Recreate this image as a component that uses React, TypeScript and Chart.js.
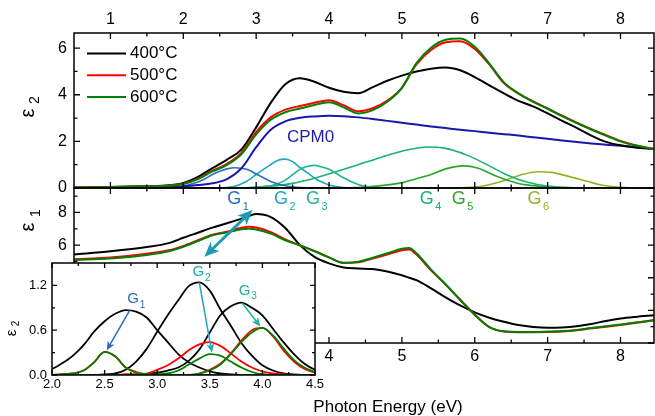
import React, { useEffect, useRef } from 'react';
import { Chart, registerables } from 'chart.js';

Chart.register(...registerables);

const FONT = '"Liberation Sans", Arial, Helvetica, sans-serif';

// ---------- series ----------
const seriesLabels = ['400°C', '500°C', '600°C'];
const seriesColors = ['#000000', '#ff0000', '#008000'];

// ---------- ε2 panel (upper) ----------
const e2Energy = [0.5, 1.0, 1.5, 1.8, 2.0, 2.2, 2.4, 2.6, 2.8, 3.0, 3.2, 3.4, 3.6, 3.8, 4.0, 4.2, 4.4, 4.6, 4.8, 5.0, 5.2, 5.4, 5.6, 5.8, 6.0, 6.2, 6.4, 6.6, 6.8, 7.0, 7.2, 7.4, 7.6, 7.8, 8.0, 8.2, 8.46];
const eps2_400 = [0.02, 0.04, 0.08, 0.12, 0.22, 0.48, 0.85, 1.22, 1.66, 2.6, 3.65, 4.45, 4.71, 4.56, 4.3, 4.13, 4.07, 4.33, 4.6, 4.82, 5.0, 5.12, 5.17, 5.05, 4.76, 4.4, 4.06, 3.74, 3.5, 3.2, 2.88, 2.58, 2.25, 1.98, 1.83, 1.74, 1.67];
const eps2_500 = [0.02, 0.04, 0.07, 0.1, 0.18, 0.4, 0.74, 1.04, 1.52, 2.4, 3.03, 3.36, 3.52, 3.66, 3.77, 3.55, 3.29, 3.42, 3.75, 4.3, 5.3, 5.92, 6.25, 6.3, 5.97, 5.3, 4.5, 4.05, 3.72, 3.42, 3.1, 2.8, 2.52, 2.27, 2.02, 1.84, 1.67];
const eps2_600 = [0.02, 0.04, 0.07, 0.1, 0.17, 0.38, 0.71, 0.99, 1.46, 2.3, 2.93, 3.25, 3.41, 3.56, 3.68, 3.46, 3.2, 3.34, 3.7, 4.3, 5.36, 6.02, 6.36, 6.41, 6.06, 5.34, 4.53, 4.06, 3.7, 3.4, 3.08, 2.79, 2.51, 2.25, 2.0, 1.83, 1.67];
const cpm0 = [0.0, 0.01, 0.03, 0.05, 0.08, 0.13, 0.2, 0.38, 0.85, 1.75, 2.5, 2.86, 3.01, 3.07, 3.1, 3.08, 3.03, 2.96, 2.88, 2.8, 2.72, 2.64, 2.57, 2.5, 2.44, 2.37, 2.31, 2.25, 2.18, 2.11, 2.04, 1.97, 1.91, 1.86, 1.81, 1.76, 1.67];

// Gaussian oscillators (400°C fit)
const g1Energy = [1.5, 1.8, 2.0, 2.1, 2.2, 2.3, 2.4, 2.5, 2.6, 2.7, 2.8, 2.9, 3.0, 3.1, 3.2, 3.3, 3.4, 3.5, 3.6, 3.8, 4.0];
const g1_400 = [0.0, 0.02, 0.08, 0.16, 0.26, 0.4, 0.58, 0.72, 0.82, 0.87, 0.85, 0.77, 0.6, 0.44, 0.28, 0.17, 0.1, 0.05, 0.02, 0.0, 0.0];
const g2Energy = [2.4, 2.6, 2.7, 2.8, 2.9, 3.0, 3.1, 3.2, 3.3, 3.4, 3.5, 3.6, 3.7, 3.8, 3.9, 4.0, 4.1, 4.2, 4.4];
const g2_400 = [0.0, 0.02, 0.07, 0.18, 0.35, 0.58, 0.8, 1.0, 1.19, 1.24, 1.13, 0.88, 0.66, 0.43, 0.26, 0.13, 0.06, 0.02, 0.0];
const g3Energy = [2.8, 3.0, 3.1, 3.2, 3.3, 3.4, 3.5, 3.6, 3.7, 3.8, 3.9, 4.0, 4.1, 4.2, 4.3, 4.4, 4.5, 4.6, 4.8];
const g3_400 = [0.0, 0.03, 0.06, 0.1, 0.19, 0.34, 0.57, 0.8, 0.92, 0.97, 0.9, 0.8, 0.62, 0.44, 0.28, 0.15, 0.07, 0.03, 0.0];
const g4Energy = [2.8, 3.2, 3.5, 3.8, 4.1, 4.4, 4.7, 5.0, 5.35, 5.6, 5.9, 6.2, 6.45, 6.7, 7.0, 7.3, 7.6];
const g4_400 = [0.0, 0.08, 0.2, 0.42, 0.7, 1.0, 1.3, 1.58, 1.76, 1.7, 1.4, 0.95, 0.55, 0.27, 0.08, 0.02, 0.0];
const g5Energy = [0.5, 4.0, 4.3, 4.6, 4.97, 5.2, 5.4, 5.6, 5.84, 6.05, 6.3, 6.6, 6.8, 7.1, 7.4, 8.46];
const g5_400 = [0.0, 0.0, 0.01, 0.07, 0.21, 0.4, 0.58, 0.82, 0.95, 0.85, 0.5, 0.19, 0.1, 0.02, 0.0, 0.0];
const g6Energy = [5.6, 6.0, 6.2, 6.43, 6.62, 6.86, 7.05, 7.26, 7.53, 7.72, 7.95, 8.2];
const g6_400 = [0.0, 0.04, 0.14, 0.34, 0.55, 0.7, 0.67, 0.52, 0.3, 0.14, 0.04, 0.0];
const gNames = ['1', '2', '3', '4', '5', '6'];
const gColors = ['#2a6cc2', '#1fa7ba', '#1db592', '#18b274', '#2aa52a', '#8cb523'];
const gLabelEnergy = [2.70, 3.34, 3.78, 5.34, 5.78, 6.82];

// ---------- ε1 panel (lower) ----------
const e1Energy = [0.5, 1.0, 1.5, 1.8, 2.0, 2.2, 2.4, 2.6, 2.8, 2.9, 3.0, 3.2, 3.4, 3.6, 3.8, 4.0, 4.2, 4.4, 4.6, 4.8, 5.0, 5.1, 5.2, 5.4, 5.6, 5.8, 6.0, 6.2, 6.4, 6.6, 6.8, 7.0, 7.2, 7.4, 7.6, 7.8, 8.0, 8.2, 8.46];
const eps1_400 = [5.43, 5.62, 5.88, 6.12, 6.45, 6.76, 7.07, 7.34, 7.62, 7.78, 7.9, 7.72, 7.05, 6.0, 5.28, 4.88, 4.63, 4.57, 4.53, 4.38, 4.15, 4.0, 3.85, 3.35, 2.8, 2.3, 1.88, 1.55, 1.3, 1.1, 0.98, 0.93, 0.95, 1.03, 1.17, 1.35, 1.5, 1.6, 1.7];
const eps1_500 = [5.14, 5.24, 5.47, 5.68, 5.95, 6.3, 6.64, 6.82, 7.07, 7.12, 7.08, 6.8, 6.35, 5.98, 5.65, 5.25, 4.92, 4.95, 5.18, 5.42, 5.68, 5.73, 5.42, 4.45, 3.58, 2.65, 1.75, 0.98, 0.7, 0.66, 0.66, 0.67, 0.7, 0.78, 0.9, 1.0, 1.1, 1.22, 1.39];
const eps1_600 = [5.1, 5.18, 5.4, 5.62, 5.9, 6.25, 6.6, 6.78, 6.97, 7.0, 6.95, 6.7, 6.3, 5.98, 5.62, 5.25, 4.9, 4.98, 5.22, 5.5, 5.78, 5.83, 5.5, 4.5, 3.6, 2.65, 1.72, 0.98, 0.72, 0.68, 0.68, 0.7, 0.73, 0.8, 0.92, 1.03, 1.13, 1.26, 1.4];

// ---------- inset (G1–G3 at 500/600 °C) ----------
const insetEnergy = [2.0, 2.1, 2.2, 2.3, 2.4, 2.5, 2.6, 2.7, 2.8, 2.9, 3.0, 3.1, 3.2, 3.3, 3.4, 3.5, 3.6, 3.7, 3.8, 3.9, 4.0, 4.1, 4.2, 4.3, 4.4, 4.5];
const g1_500 = [0, 0.01, 0.02, 0.06, 0.17, 0.31, 0.25, 0.1, 0.04, 0.01, 0, 0, 0, 0, 0, 0, 0, 0, 0, 0, 0, 0, 0, 0, 0, 0];
const g1_600 = [0, 0.01, 0.02, 0.06, 0.17, 0.31, 0.25, 0.1, 0.03, 0.01, 0, 0, 0, 0, 0, 0, 0, 0, 0, 0, 0, 0, 0, 0, 0, 0];
const g2_500 = [0, 0, 0, 0, 0, 0, 0, 0.01, 0.01, 0.02, 0.07, 0.13, 0.22, 0.33, 0.41, 0.44, 0.39, 0.29, 0.18, 0.1, 0.05, 0.02, 0.01, 0, 0, 0];
const g2_600 = [0, 0, 0, 0, 0, 0, 0, 0, 0, 0, 0.01, 0.02, 0.06, 0.14, 0.22, 0.28, 0.26, 0.18, 0.1, 0.04, 0.01, 0, 0, 0, 0, 0];
const g3_500 = [0, 0, 0, 0, 0, 0, 0, 0, 0, 0, 0, 0, 0, 0, 0.02, 0.07, 0.15, 0.29, 0.46, 0.6, 0.63, 0.52, 0.33, 0.18, 0.08, 0.03];
const g3_600 = [0, 0, 0, 0, 0, 0, 0, 0, 0, 0, 0, 0, 0, 0, 0.02, 0.06, 0.14, 0.28, 0.44, 0.57, 0.63, 0.53, 0.36, 0.2, 0.1, 0.04];
// arrows: peak at 400°C -> peak at 500/600°C  [x1, y1, x2, y2] in data units
const insetArrows = [
  [2.74, 0.87, 2.52, 0.33],
  [3.40, 1.24, 3.52, 0.30],
  [3.81, 0.96, 3.98, 0.65],
];
const insetLabelPos = [[2.77, 1.02], [3.39, 1.38], [3.83, 1.13]];
// big double arrow in ε1 panel [x1, y1, x2, y2]
const mainArrow = [2.95, 8.15, 2.29, 5.28];

// ---------- ticks ----------
const xMajor = [1, 2, 3, 4, 5, 6, 7, 8];
const xMajorLabels = ['1', '2', '3', '4', '5', '6', '7', '8'];
const xMinor = [1.5, 2.5, 3.5, 4.5, 5.5, 6.5, 7.5];
const eps2Major = [0, 2, 4, 6];
const eps2Labels = ['0', '2', '4', '6'];
const eps2Minor = [1, 3, 5];
const eps1Major = [0, 2, 4, 6, 8];
const eps1Labels = ['0', '2', '4', '6', '8'];
const eps1Minor = [1, 3, 5, 7, 9];
const insetXMajor = [2.0, 2.5, 3.0, 3.5, 4.0, 4.5];
const insetXLabels = ['2.0', '2.5', '3.0', '3.5', '4.0', '4.5'];
const insetXMinor = [2.25, 2.75, 3.25, 3.75, 4.25];
const insetYMajor = [0, 0.6, 1.2];
const insetYLabels = ['0.0', '0.6', '1.2'];
const insetYMinor = [0.3, 0.9];

// ---------- helpers ----------
function line(label: string, xs: number[], ys: number[], color: string, width: number) {
  return {
    label,
    data: xs.map((x, i) => ({ x, y: ys[i] })),
    borderColor: color,
    backgroundColor: color,
    borderWidth: width,
    pointRadius: 0,
    fill: false,
    cubicInterpolationMode: 'monotone',
  };
}

function drawBox(chart: any, xMaj: number[], xMin: number[], yMaj: number[], yMin: number[], majLen: number, minLen: number) {
  const { ctx, chartArea: a, scales } = chart;
  const xs = scales.x;
  const ys = scales.y;
  ctx.save();
  ctx.strokeStyle = '#000';
  ctx.lineWidth = 1.5;
  ctx.strokeRect(a.left, a.top, a.right - a.left, a.bottom - a.top);
  ctx.lineWidth = 1.3;
  ctx.beginPath();
  const xt = (v: number, len: number) => {
    const p = xs.getPixelForValue(v);
    ctx.moveTo(p, a.top); ctx.lineTo(p, a.top + len);
    ctx.moveTo(p, a.bottom); ctx.lineTo(p, a.bottom - len);
  };
  const yt = (v: number, len: number) => {
    const p = ys.getPixelForValue(v);
    ctx.moveTo(a.left, p); ctx.lineTo(a.left + len, p);
    ctx.moveTo(a.right, p); ctx.lineTo(a.right - len, p);
  };
  xMaj.forEach((v) => xt(v, majLen));
  xMin.forEach((v) => xt(v, minLen));
  yMaj.forEach((v) => yt(v, majLen));
  yMin.forEach((v) => yt(v, minLen));
  ctx.stroke();
  ctx.restore();
}

function rotText(ctx: any, text: string, cx: number, cy: number, size: number, color = '#000') {
  ctx.save();
  ctx.translate(cx, cy);
  ctx.rotate(-Math.PI / 2);
  ctx.font = `${size}px ${FONT}`;
  ctx.fillStyle = color;
  ctx.textAlign = 'center';
  ctx.textBaseline = 'middle';
  ctx.fillText(text, 0, 0);
  ctx.restore();
}

function subText(ctx: any, cx: number, cy: number, main: string, sub: string, size: number, subSize: number, color: string, dx: number, dy: number) {
  ctx.save();
  ctx.fillStyle = color;
  ctx.textBaseline = 'middle';
  ctx.textAlign = 'left';
  ctx.font = `${size}px ${FONT}`;
  const w = ctx.measureText(main).width;
  const x = cx - w / 2;
  ctx.fillText(main, x, cy);
  ctx.font = `${subSize}px ${FONT}`;
  ctx.fillText(sub, x + w + dx, cy + dy);
  ctx.restore();
}

function head(ctx: any, x1: number, y1: number, x2: number, y2: number, len: number, halfW: number, notch: number) {
  const ang = Math.atan2(y2 - y1, x2 - x1);
  ctx.save();
  ctx.translate(x2, y2);
  ctx.rotate(ang);
  ctx.beginPath();
  ctx.moveTo(0, 0);
  ctx.lineTo(-len, -halfW);
  ctx.lineTo(-len * notch, 0);
  ctx.lineTo(-len, halfW);
  ctx.closePath();
  ctx.fill();
  ctx.restore();
}

function arrow(ctx: any, x1: number, y1: number, x2: number, y2: number, color: string, lw: number, len: number, halfW: number, both: boolean) {
  ctx.save();
  ctx.strokeStyle = color;
  ctx.fillStyle = color;
  ctx.lineWidth = lw;
  const d = Math.hypot(x2 - x1, y2 - y1);
  const ux = (x2 - x1) / d;
  const uy = (y2 - y1) / d;
  const s = both ? len * 0.7 : 0;
  ctx.beginPath();
  ctx.moveTo(x1 + ux * s, y1 + uy * s);
  ctx.lineTo(x2 - ux * len * 0.7, y2 - uy * len * 0.7);
  ctx.stroke();
  head(ctx, x1, y1, x2, y2, len, halfW, 0.72);
  if (both) head(ctx, x2, y2, x1, y1, len, halfW, 0.72);
  ctx.restore();
}

function baseOptions(pad: any, xmin: number, xmax: number, ymin: number, ymax: number) {
  return {
    responsive: false,
    animation: false,
    devicePixelRatio: 1,
    events: [],
    layout: { padding: pad },
    plugins: { legend: { display: false }, tooltip: { enabled: false } },
    scales: {
      x: { type: 'linear', min: xmin, max: xmax, display: false },
      y: { type: 'linear', min: ymin, max: ymax, display: false },
    },
  };
}

const X_MIN = 0.5;
const X_MAX = 8.46;

function upperConfig(): any {
  const datasets = [
    line(seriesLabels[2], e2Energy, eps2_600, seriesColors[2], 2),
    line(seriesLabels[1], e2Energy, eps2_500, seriesColors[1], 2),
    line(seriesLabels[0], e2Energy, eps2_400, seriesColors[0], 2),
    line('CPM0', e2Energy, cpm0, '#1818aa', 2),
    line('G1', g1Energy, g1_400, gColors[0], 1.6),
    line('G2', g2Energy, g2_400, gColors[1], 1.6),
    line('G3', g3Energy, g3_400, gColors[2], 1.6),
    line('G4', g4Energy, g4_400, gColors[3], 1.6),
    line('G5', g5Energy, g5_400, gColors[4], 1.6),
    line('G6', g6Energy, g6_400, gColors[5], 1.6),
  ];
  return {
    type: 'line',
    data: { datasets },
    options: baseOptions({ left: 74, right: 1, top: 33, bottom: 228 }, X_MIN, X_MAX, 0, 6.65),
    plugins: [{
      id: 'upperDeco',
      afterDatasetsDraw(chart: any) {
        const { ctx, scales } = chart;
        drawBox(chart, xMajor, xMinor, eps2Major, eps2Minor, 6, 3.5);
        ctx.save();
        ctx.fillStyle = '#000';
        ctx.font = `16px ${FONT}`;
        ctx.textAlign = 'center';
        ctx.textBaseline = 'middle';
        xMajor.forEach((v, i) => ctx.fillText(xMajorLabels[i], scales.x.getPixelForValue(v), 20));
        ctx.textAlign = 'right';
        eps2Major.forEach((v, i) => ctx.fillText(eps2Labels[i], 67, scales.y.getPixelForValue(v)));
        ctx.restore();
        rotText(ctx, 'ε', 28, 113, 20);
        rotText(ctx, '2', 35, 100, 14);
        // legend
        ctx.save();
        ctx.font = `17px ${FONT}`;
        ctx.textAlign = 'left';
        ctx.textBaseline = 'middle';
        seriesLabels.forEach((lab, i) => {
          const y = 53.5 + i * 21.7;
          ctx.strokeStyle = seriesColors[i];
          ctx.lineWidth = 2;
          ctx.beginPath();
          ctx.moveTo(87, y);
          ctx.lineTo(126, y);
          ctx.stroke();
          ctx.fillStyle = '#000';
          ctx.fillText(lab, 130, y);
        });
        ctx.fillStyle = '#1c1cb0';
        ctx.fillText('CPM0', 287, 137);
        ctx.restore();
      },
    }],
  };
}

function lowerConfig(): any {
  const datasets = [
    line(seriesLabels[2], e1Energy, eps1_600, seriesColors[2], 2),
    line(seriesLabels[1], e1Energy, eps1_500, seriesColors[1], 2),
    line(seriesLabels[0], e1Energy, eps1_400, seriesColors[0], 2),
  ];
  return {
    type: 'line',
    data: { datasets },
    options: baseOptions({ left: 74, right: 1, top: 188, bottom: 73 }, X_MIN, X_MAX, 0, 9.5),
    plugins: [{
      id: 'lowerDeco',
      afterDatasetsDraw(chart: any) {
        const { ctx, scales } = chart;
        drawBox(chart, xMajor, xMinor, eps1Major, eps1Minor, 6, 3.5);
        ctx.save();
        ctx.fillStyle = '#000';
        ctx.font = `16px ${FONT}`;
        ctx.textAlign = 'center';
        ctx.textBaseline = 'middle';
        xMajor.forEach((v, i) => ctx.fillText(xMajorLabels[i], scales.x.getPixelForValue(v), 357));
        ctx.textAlign = 'right';
        eps1Major.forEach((v, i) => ctx.fillText(eps1Labels[i], 67, scales.y.getPixelForValue(v)));
        ctx.font = `17px ${FONT}`;
        ctx.textAlign = 'center';
        ctx.fillText('Photon Energy (eV)', 388, 407);
        ctx.restore();
        rotText(ctx, 'ε', 28, 227, 20);
        rotText(ctx, '1', 36, 213, 14);
        // G labels
        gNames.forEach((n, i) => {
          const cx = scales.x.getPixelForValue(gLabelEnergy[i]);
          subText(ctx, cx, 199, 'G', n, 18, 11, gColors[i], 1.5, 7.5);
        });
        // double arrow
        arrow(ctx,
          scales.x.getPixelForValue(mainArrow[0]), scales.y.getPixelForValue(mainArrow[1]),
          scales.x.getPixelForValue(mainArrow[2]), scales.y.getPixelForValue(mainArrow[3]),
          '#1b9cb5', 3, 15, 6.5, true);
      },
    }],
  };
}

function insetConfig(): any {
  const datasets = [
    line('G1 600', insetEnergy, g1_600, seriesColors[2], 1.8),
    line('G2 600', insetEnergy, g2_600, seriesColors[2], 1.8),
    line('G3 600', insetEnergy, g3_600, seriesColors[2], 1.8),
    line('G1 500', insetEnergy, g1_500, seriesColors[1], 1.8),
    line('G2 500', insetEnergy, g2_500, seriesColors[1], 1.8),
    line('G3 500', insetEnergy, g3_500, seriesColors[1], 1.8),
    line('G1 400', g1Energy, g1_400, seriesColors[0], 1.8),
    line('G2 400', g2Energy, g2_400, seriesColors[0], 1.8),
    line('G3 400', g3Energy, g3_400, seriesColors[0], 1.8),
  ];
  return {
    type: 'line',
    data: { datasets },
    options: baseOptions({ left: 52, right: 15, top: 13, bottom: 25 }, 2.0, 4.5, 0, 1.5),
    plugins: [{
      id: 'insetDeco',
      beforeDatasetsDraw(chart: any) {
        const { ctx, chartArea: a } = chart;
        ctx.save();
        ctx.fillStyle = '#ffffff';
        ctx.fillRect(a.left, a.top, a.right - a.left, a.bottom - a.top);
        ctx.restore();
      },
      afterDatasetsDraw(chart: any) {
        const { ctx, scales } = chart;
        drawBox(chart, insetXMajor, insetXMinor, insetYMajor, insetYMinor, 5, 3);
        ctx.save();
        ctx.fillStyle = '#000';
        ctx.font = `13px ${FONT}`;
        ctx.textAlign = 'center';
        ctx.textBaseline = 'middle';
        insetXMajor.forEach((v, i) => ctx.fillText(insetXLabels[i], scales.x.getPixelForValue(v), 134));
        ctx.textAlign = 'right';
        insetYMajor.forEach((v, i) => ctx.fillText(insetYLabels[i], 47, scales.y.getPixelForValue(v)));
        ctx.restore();
        rotText(ctx, 'ε', 12, 83, 15);
        rotText(ctx, '2', 16, 73.5, 10);
        insetArrows.forEach((ar, i) => {
          arrow(ctx,
            scales.x.getPixelForValue(ar[0]), scales.y.getPixelForValue(ar[1]),
            scales.x.getPixelForValue(ar[2]), scales.y.getPixelForValue(ar[3]),
            gColors[i], 1.5, 9, 4, false);
          subText(ctx, scales.x.getPixelForValue(insetLabelPos[i][0]), scales.y.getPixelForValue(insetLabelPos[i][1]),
            'G', gNames[i], 15, 10, gColors[i], 1, 6);
        });
      },
    }],
  };
}

export default function App() {
  const upperRef = useRef<HTMLCanvasElement>(null);
  const lowerRef = useRef<HTMLCanvasElement>(null);
  const insetRef = useRef<HTMLCanvasElement>(null);
  useEffect(() => {
    const charts = [
      new Chart(upperRef.current as HTMLCanvasElement, upperConfig()),
      new Chart(lowerRef.current as HTMLCanvasElement, lowerConfig()),
      new Chart(insetRef.current as HTMLCanvasElement, insetConfig()),
    ];
    return () => charts.forEach((c) => c.destroy());
  }, []);
  return (
    <div style={{ position: 'absolute', left: 0, top: 0, width: 655, height: 416, background: '#fff', overflow: 'hidden' }}>
      <canvas ref={upperRef} width={655} height={416} style={{ position: 'absolute', left: 0, top: 0 }} />
      <canvas ref={lowerRef} width={655} height={416} style={{ position: 'absolute', left: 0, top: 0 }} />
      <canvas ref={insetRef} width={330} height={150} style={{ position: 'absolute', left: 0, top: 250 }} />
    </div>
  );
}
